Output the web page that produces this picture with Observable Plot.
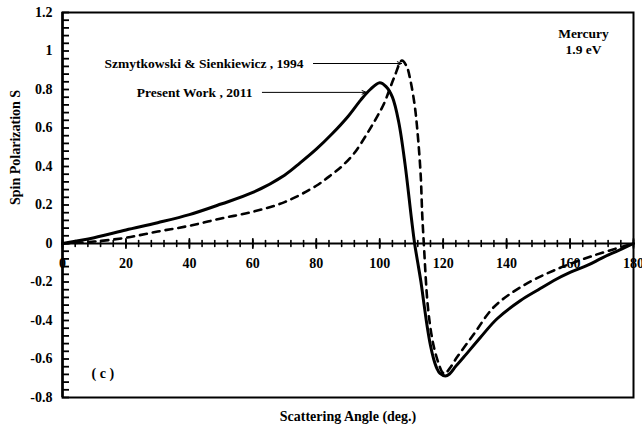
<!DOCTYPE html>
<html>
<head>
<meta charset="utf-8">
<script src="https://cdn.jsdelivr.net/npm/d3@7"></script>
<script src="https://cdn.jsdelivr.net/npm/@observablehq/plot@0.6"></script>
<style>
  html, body { margin: 0; padding: 0; background: white; }
  #chart svg { display: block; }
</style>
</head>
<body>
<div id="chart"></div>
<script>
// Present Work, 2011 (solid)
const presentAngle = [0, 10, 20, 30, 40, 50, 60, 70, 75, 80, 85, 90, 94, 97, 100, 102, 104, 106, 108, 110, 111, 112, 113, 114, 115, 116, 117, 118, 119, 120.7, 122, 124, 126.5, 131.8, 137, 144.4, 150, 154.9, 160, 165.4, 170, 175, 180];
const presentS =     [0, 0.03, 0.07, 0.108, 0.15, 0.205, 0.265, 0.355, 0.42, 0.49, 0.57, 0.66, 0.745, 0.8, 0.835, 0.815, 0.76, 0.63, 0.41, 0.13, 0.0, -0.1, -0.2, -0.32, -0.435, -0.53, -0.6, -0.648, -0.675, -0.688, -0.678, -0.637, -0.59, -0.487, -0.391, -0.296, -0.24, -0.192, -0.15, -0.114, -0.076, -0.038, 0];

// Szmytkowski & Sienkiewicz, 1994 (dashed)
const szAngle = [0, 10, 20, 30, 40, 50, 60, 70, 80, 85, 88, 92, 96, 98.7, 101.3, 104.5, 107, 108.5, 109.7, 111, 111.8, 112.9, 113.4, 113.9, 115, 116, 117.1, 118.5, 119.7, 120.5, 122, 124.4, 129.7, 136, 144.4, 154.9, 167.5, 180];
const szS =     [0, 0.01, 0.03, 0.062, 0.092, 0.13, 0.165, 0.215, 0.3, 0.36, 0.4, 0.47, 0.57, 0.645, 0.725, 0.86, 0.95, 0.92, 0.845, 0.72, 0.6, 0.36, 0.15, 0.0, -0.296, -0.44, -0.539, -0.62, -0.668, -0.677, -0.65, -0.59, -0.47, -0.33, -0.227, -0.14, -0.062, 0];

const xMajor = [0, 20, 40, 60, 80, 100, 120, 140, 160, 180];
const xMinor = d3.range(0, 181, 4);
const yMajor = [-0.8, -0.6, -0.4, -0.2, 0, 0.2, 0.4, 0.6, 0.8, 1, 1.2];
const yMinor = d3.range(-0.8, 1.2001, 0.04).map(v => +v.toFixed(2));

const annLabels = ["Szmytkowski & Sienkiewicz , 1994", "Present Work , 2011"];
const annTextX = [76, 59.9];
const annArrowFrom = [79.1, 63];
const annArrowTo = [106.9, 95.8];
const annY = [0.935, 0.785];

const present = presentAngle.map((a, i) => ({a, s: presentS[i]}));
const sz = szAngle.map((a, i) => ({a, s: szS[i]}));
const ann = annLabels.map((label, i) => ({label, tx: annTextX[i], x1: annArrowFrom[i], x2: annArrowTo[i], y: annY[i]}));

const tickShape = {
  draw(context, l) { context.moveTo(0, 0); context.lineTo(0, -l); }
};
const fmt = d => String(+d.toFixed(1));

const W = 642, H = 433, ML = 62, MR = 9, MT = 12, MB = 36;
const yTickLen = 7;

const chart = Plot.plot({
  width: W,
  height: H,
  marginLeft: ML,
  marginRight: MR,
  marginTop: MT,
  marginBottom: MB,
  style: {fontFamily: "'Liberation Serif', 'Times New Roman', serif", fontWeight: "bold", fontSize: "14px", background: "white", color: "black"},
  x: {domain: [0, 180], axis: null},
  y: {domain: [-0.8, 1.2], axis: null},
  marks: [
    Plot.frame({stroke: "black", strokeWidth: 2}),
    Plot.ruleX([0], {stroke: "black", strokeWidth: 2.5}),
    Plot.tickY(yMinor, {y: d => d, insetRight: W - ML - MR - yTickLen, stroke: "black", strokeWidth: 1.8}),
    Plot.text(yMajor, {x: () => 0, y: d => d, text: fmt, textAnchor: "end", dx: -10, fontSize: 14, fontWeight: "bold"}),
    Plot.ruleY([0], {stroke: "black", strokeWidth: 2}),
    Plot.vector(xMinor, {x: d => d, y: () => 0, length: 6, rotate: 0, anchor: "middle", shape: tickShape, stroke: "black", strokeWidth: 1.6}),
    Plot.vector(xMajor, {x: d => d, y: () => 0, length: 9, rotate: 0, anchor: "middle", shape: tickShape, stroke: "black", strokeWidth: 1.8}),
    Plot.text(xMajor, {x: d => d, y: () => 0, text: d => String(d), dy: 20, fontSize: 14, fontWeight: "bold"}),
    Plot.line(sz, {x: "a", y: "s", curve: "catmull-rom", stroke: "black", strokeWidth: 2.6, strokeDasharray: "7,6"}),
    Plot.line(present, {x: "a", y: "s", curve: "catmull-rom", stroke: "black", strokeWidth: 3}),
    Plot.arrow(ann, {x1: "x1", y1: "y", x2: "x2", y2: "y", stroke: "black", strokeWidth: 1, headLength: 7, headAngle: 45}),
    Plot.text(ann, {x: "tx", y: "y", text: "label", textAnchor: "end", fontSize: 13.5, fontWeight: "bold"}),
    Plot.text(["Mercury"], {frameAnchor: "top-right", text: d => d, textAnchor: "middle", dx: -50, dy: 16, fontSize: 13.5, fontWeight: "bold"}),
    Plot.text(["1.9 eV"], {frameAnchor: "top-right", text: d => d, textAnchor: "middle", dx: -50, dy: 32, fontSize: 13.5, fontWeight: "bold"}),
    Plot.text(["( c )"], {frameAnchor: "bottom-left", text: d => d, dx: 29, dy: -20, fontSize: 14, fontWeight: "bold"}),
    Plot.text(["Scattering Angle (deg.)"], {frameAnchor: "bottom", text: d => d, dy: 23, fontSize: 14, fontWeight: "bold"}),
    Plot.text(["Spin Polarization S"], {frameAnchor: "left", text: d => d, dx: -47, rotate: -90, fontSize: 14, fontWeight: "bold"})
  ]
});
document.getElementById("chart").appendChild(chart);
</script>
</body>
</html>
